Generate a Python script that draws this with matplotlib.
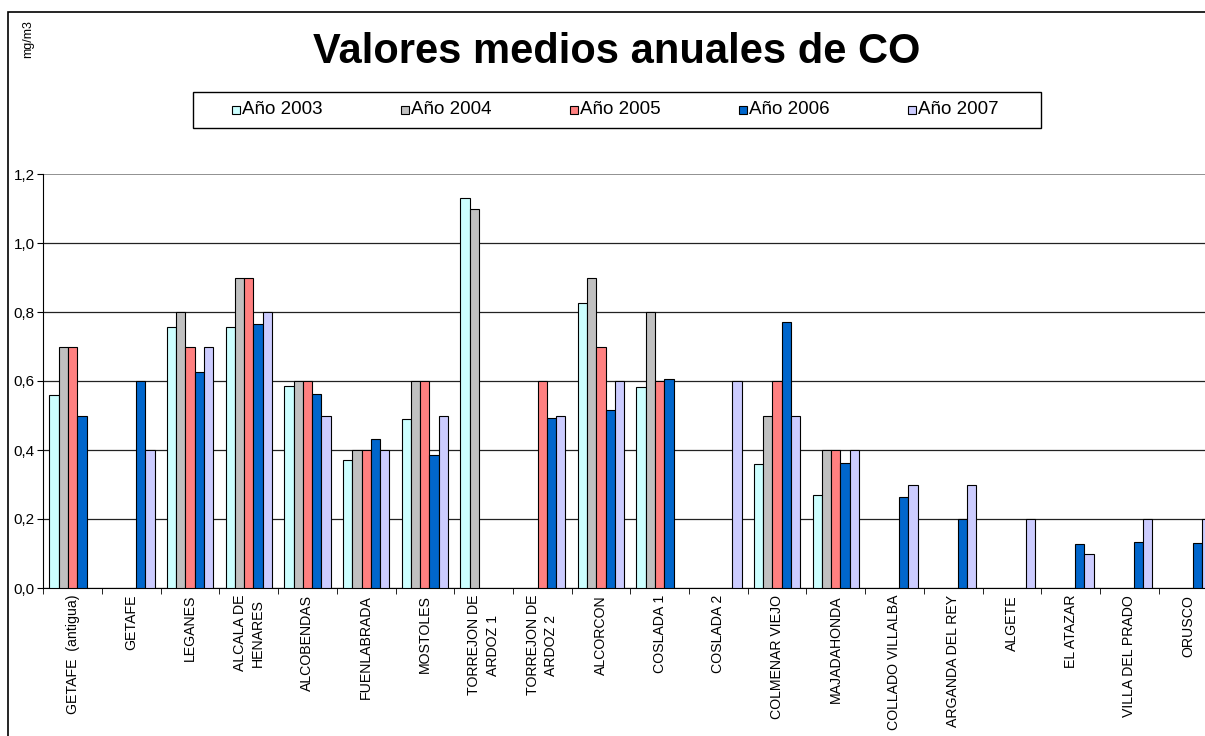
import numpy as np
import matplotlib.pyplot as plt
from matplotlib.patches import Rectangle

plt.rcParams['font.family'] = ['Liberation Sans', 'DejaVu Sans']

# data
stations = ["GETAFE  (antigua)", "GETAFE", "LEGANES", "ALCALA DE\nHENARES", "ALCOBENDAS",
            "FUENLABRADA", "MOSTOLES", "TORREJON DE\nARDOZ 1", "TORREJON DE\nARDOZ 2", "ALCORCON",
            "COSLADA 1", "COSLADA 2", "COLMENAR VIEJO", "MAJADAHONDA", "COLLADO VILLALBA",
            "ARGANDA DEL REY", "ALGETE", "EL ATAZAR", "VILLA DEL PRADO", "ORUSCO"]
years = ["Año 2003", "Año 2004", "Año 2005", "Año 2006", "Año 2007"]
nan = np.nan
y2003 = [0.56, nan, 0.756, 0.756, 0.586, 0.37, 0.49, 1.13, nan, 0.825,
         0.582, nan, 0.358, 0.269, nan, nan, nan, nan, nan, nan]
y2004 = [0.70, nan, 0.80, 0.90, 0.60, 0.40, 0.60, 1.10, nan, 0.90,
         0.80, nan, 0.50, 0.40, nan, nan, nan, nan, nan, nan]
y2005 = [0.70, nan, 0.70, 0.90, 0.60, 0.40, 0.60, nan, 0.60, 0.70,
         0.60, nan, 0.60, 0.40, nan, nan, nan, nan, nan, nan]
y2006 = [0.50, 0.60, 0.626, 0.765, 0.563, 0.432, 0.385, nan, 0.493, 0.517,
         0.605, nan, 0.771, 0.362, 0.265, 0.20, nan, 0.127, 0.134, 0.13]
y2007 = [nan, 0.40, 0.70, 0.80, 0.50, 0.40, 0.50, nan, 0.50, 0.60,
         nan, 0.60, 0.50, 0.40, 0.30, 0.30, 0.20, 0.10, 0.20, 0.20]
series = [y2003, y2004, y2005, y2006, y2007]
colors = ["#CCFFFF", "#C0C0C0", "#FF8080", "#0066CC", "#CCCCFF"]

W, H = 1205, 736
fig = plt.figure(figsize=(W / 100, H / 100), dpi=100)


def fx(px):
    return px / W


def fy(py):
    return 1 - py / H


# plot area runs past the right edge (chart is cut off in the original)
ax = fig.add_axes([fx(43.3), fy(588), 1174 / W, (588 - 174) / H])

x = np.arange(len(stations))
bw = 0.158
for i, (vals, c) in enumerate(zip(series, colors)):
    ax.bar(x + (i - 2) * bw, vals, width=bw, color=c, edgecolor="black",
           linewidth=0.8, zorder=3)

ax.set_xlim(-0.5, len(stations) - 0.5)
ax.set_ylim(0, 1.2)
yt = np.arange(0, 1.21, 0.2)
ax.set_yticks(yt)
ax.set_yticklabels([f"{v:.1f}".replace(".", ",") for v in yt], fontsize=11)
ax.yaxis.grid(True, color="#222222", linewidth=0.9, zorder=0)
ax.get_ygridlines()[-1].set_color("#888888")
ax.get_ygridlines()[-1].set_linewidth(1.3)
ax.set_xticks(x)
ax.set_xticklabels(stations, rotation=90, fontsize=10.2, va="top", ha="center",
                   multialignment="center", linespacing=1.4)
ax.set_xticks(np.arange(-0.5, len(stations), 1), minor=True)
ax.tick_params(axis="x", which="major", length=0, pad=5)
ax.tick_params(axis="x", which="minor", length=4, direction="out")
ax.tick_params(axis="y", length=4, direction="out", pad=2)
for s in ["top", "right"]:
    ax.spines[s].set_visible(False)

# title and unit
fig.text(fx(617), fy(52), "Valores medios anuales de CO", fontsize=30,
         fontweight="bold", ha="center", va="center")
fig.text(fx(28), fy(58), "mg/m3", rotation=90, fontsize=9, ha="center", va="bottom")

# legend box drawn by hand to match the spacing
fig.patches.append(Rectangle((fx(193), fy(128)), 848 / W, 36 / H, transform=fig.transFigure,
                             fill=False, edgecolor="black", linewidth=1))
for i, (lab, c) in enumerate(zip(years, colors)):
    mx = 236 + 169 * i
    fig.patches.append(Rectangle((fx(mx - 4), fy(114)), 8 / W, 8 / H, transform=fig.transFigure,
                                 facecolor=c, edgecolor="black", linewidth=0.8))
    fig.text(fx(mx + 6), fy(110), lab, fontsize=13.5, ha="left", va="center")

# outer chart frame
fig.patches.append(Rectangle((fx(8), -0.1), 1.2, fy(12) + 0.1, transform=fig.transFigure,
                             fill=False, edgecolor="black", linewidth=1.2))

fig.savefig("out.png", dpi=100)
